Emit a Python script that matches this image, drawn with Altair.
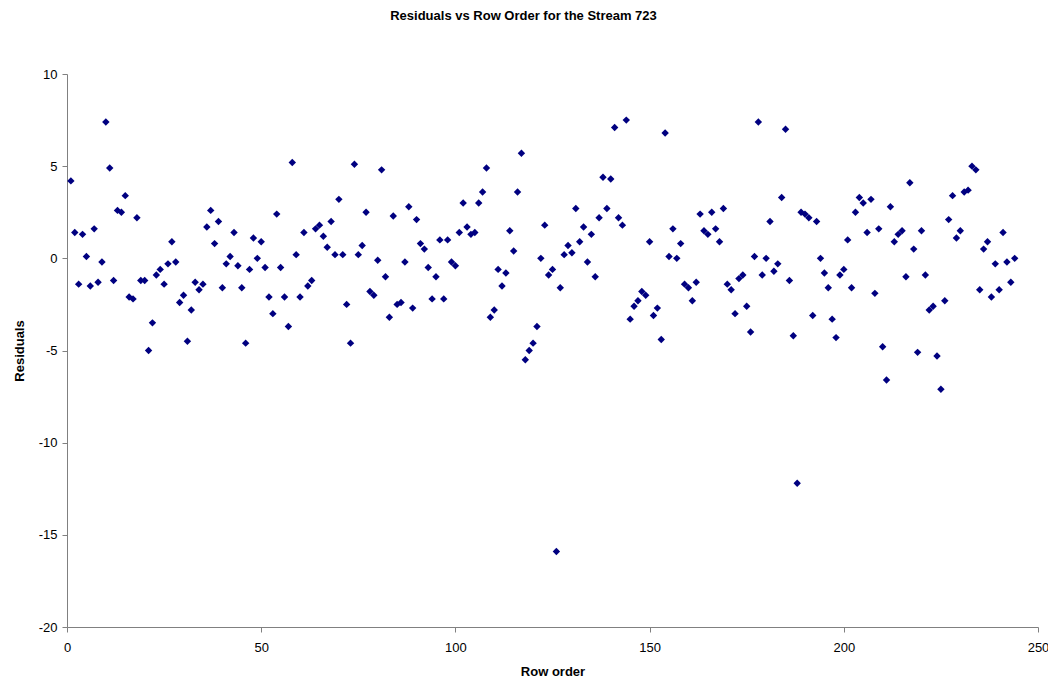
import altair as alt
import pandas as pd

row_order = list(range(1, 245))
residuals = [
    4.2, 1.4, -1.4, 1.3, 0.1, -1.5, 1.6, -1.3, -0.2, 7.4,
    4.9, -1.2, 2.6, 2.5, 3.4, -2.1, -2.2, 2.2, -1.2, -1.2,
    -5.0, -3.5, -0.9, -0.6, -1.4, -0.3, 0.9, -0.2, -2.4, -2.0,
    -4.5, -2.8, -1.3, -1.7, -1.4, 1.7, 2.6, 0.8, 2.0, -1.6,
    -0.3, 0.1, 1.4, -0.4, -1.6, -4.6, -0.6, 1.1, 0.0, 0.9,
    -0.5, -2.1, -3.0, 2.4, -0.5, -2.1, -3.7, 5.2, 0.2, -2.1,
    1.4, -1.5, -1.2, 1.6, 1.8, 1.2, 0.6, 2.0, 0.2, 3.2,
    0.2, -2.5, -4.6, 5.1, 0.2, 0.7, 2.5, -1.8, -2.0, -0.1,
    4.8, -1.0, -3.2, 2.3, -2.5, -2.4, -0.2, 2.8, -2.7, 2.1,
    0.8, 0.5, -0.5, -2.2, -1.0, 1.0, -2.2, 1.0, -0.2, -0.4,
    1.4, 3.0, 1.7, 1.3, 1.4, 3.0, 3.6, 4.9, -3.2, -2.8,
    -0.6, -1.5, -0.8, 1.5, 0.4, 3.6, 5.7, -5.5, -5.0, -4.6,
    -3.7, 0.0, 1.8, -0.9, -0.6, -15.9, -1.6, 0.2, 0.7, 0.3,
    2.7, 0.9, 1.7, -0.2, 1.3, -1.0, 2.2, 4.4, 2.7, 4.3,
    7.1, 2.2, 1.8, 7.5, -3.3, -2.6, -2.3, -1.8, -2.0, 0.9,
    -3.1, -2.7, -4.4, 6.8, 0.1, 1.6, 0.0, 0.8, -1.4, -1.6,
    -2.3, -1.3, 2.4, 1.5, 1.3, 2.5, 1.6, 0.9, 2.7, -1.4,
    -1.7, -3.0, -1.1, -0.9, -2.6, -4.0, 0.1, 7.4, -0.9, 0.0,
    2.0, -0.7, -0.3, 3.3, 7.0, -1.2, -4.2, -12.2, 2.5, 2.4,
    2.2, -3.1, 2.0, 0.0, -0.8, -1.6, -3.3, -4.3, -0.9, -0.6,
    1.0, -1.6, 2.5, 3.3, 3.0, 1.4, 3.2, -1.9, 1.6, -4.8,
    -6.6, 2.8, 0.9, 1.3, 1.5, -1.0, 4.1, 0.5, -5.1, 1.5,
    -0.9, -2.8, -2.6, -5.3, -7.1, -2.3, 2.1, 3.4, 1.1, 1.5,
    3.6, 3.7, 5.0, 4.8, -1.7, 0.5, 0.9, -2.1, -0.3, -1.7,
    1.4, -0.2, -1.3, 0.0,
]
x_ticks = [0, 50, 100, 150, 200, 250]
y_ticks = [-20, -15, -10, -5, 0, 5, 10]

df = pd.DataFrame({"row": row_order, "res": residuals})

FONT = "Liberation Sans"

chart = (
    alt.Chart(df)
    .mark_point(shape="diamond", filled=True, size=55, color="#000080", opacity=1)
    .encode(
        x=alt.X(
            "row:Q",
            scale=alt.Scale(domain=[0, 250], nice=False, zero=False),
            axis=alt.Axis(
                values=x_ticks,
                title="Row order",
                grid=False,
                domainColor="#808080",
                tickColor="#808080",
                tickSize=5,
                labelPadding=9,
                labelFontSize=13,
                labelColor="black",
                labelFont=FONT,
                titleFont=FONT,
                titleFontSize=13,
                titleFontWeight="bold",
                titleColor="black",
                titleBaseline="middle",
                titleY=44,
                labelFlush=False,
            ),
        ),
        y=alt.Y(
            "res:Q",
            scale=alt.Scale(domain=[-20, 10], nice=False, zero=False),
            axis=alt.Axis(
                values=y_ticks,
                title="Residuals",
                grid=False,
                domainColor="#808080",
                tickColor="#808080",
                tickSize=5,
                labelPadding=5,
                labelFontSize=13,
                labelColor="black",
                labelFont=FONT,
                labelExpr="datum.value + ''",
                titleFont=FONT,
                titleFontSize=13,
                titleFontWeight="bold",
                titleColor="black",
                titleBaseline="middle",
                titleX=-48,
                labelFlush=False,
            ),
        ),
    )
    .properties(
        width=971,
        height=553,
        autosize=alt.AutoSizeParams(type="none"),
        padding={"left": 59, "top": 66, "right": 10, "bottom": 50},
        title=alt.TitleParams(
            "Residuals vs Row Order for the Stream 723",
            font=FONT,
            fontSize=13,
            fontWeight="bold",
            color="black",
            anchor="middle",
            dx=-29,
            offset=45,
        ),
    )
    .configure_view(stroke=None)
)

chart.save("out.html", embed_options={"renderer": "svg", "actions": False})
